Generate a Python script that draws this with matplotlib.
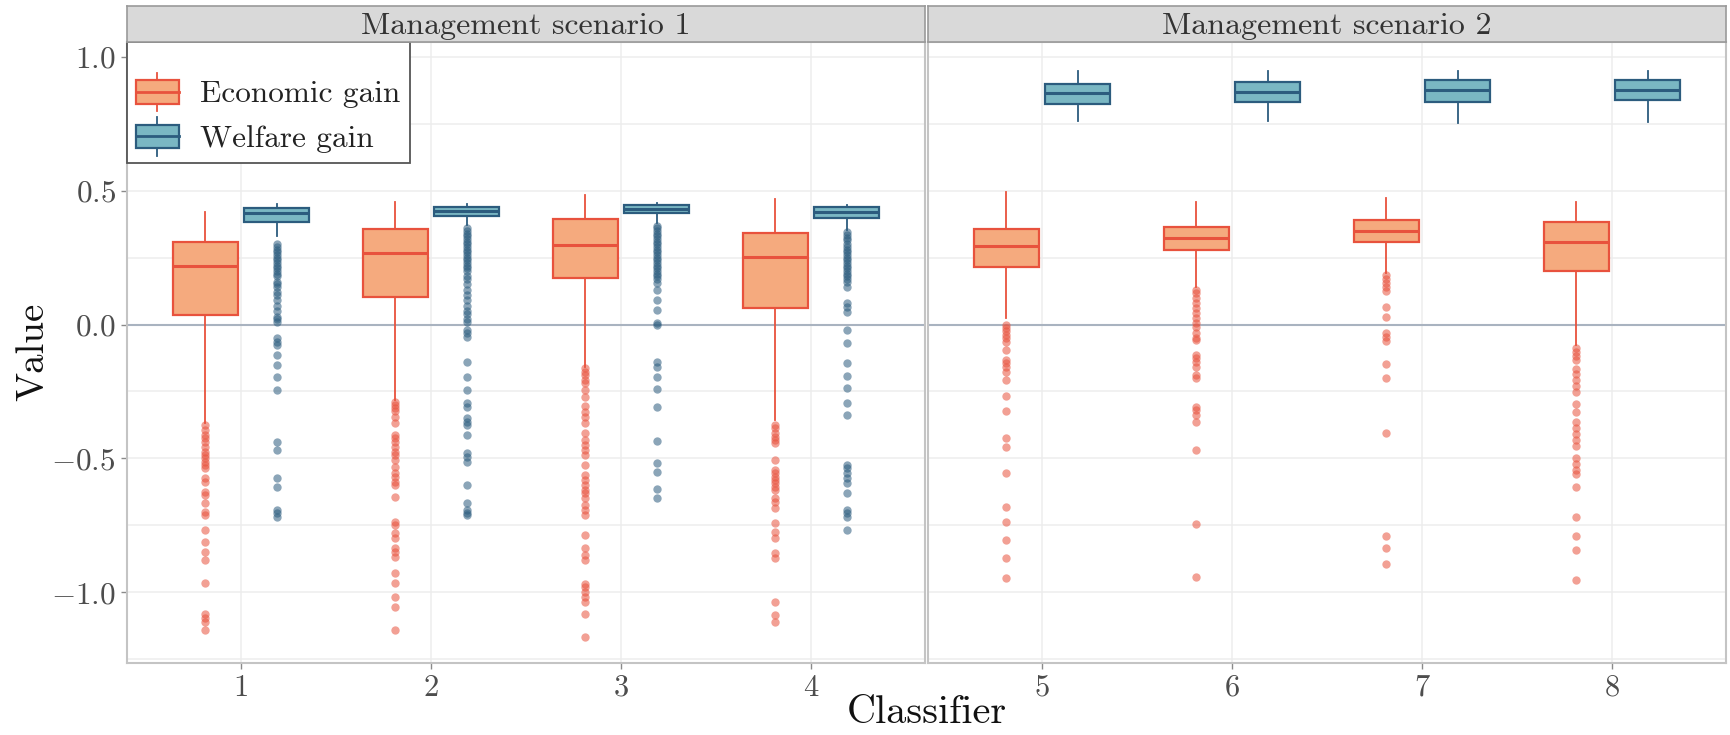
import matplotlib
matplotlib.use("Agg")
import matplotlib.pyplot as plt
from matplotlib.legend_handler import HandlerBase
from matplotlib.patches import Rectangle, Patch
from matplotlib.lines import Line2D

plt.rcParams["font.family"] = "cmr10"
plt.rcParams["mathtext.fontset"] = "cm"

# ---- data ----
classifiers = [1, 2, 3, 4, 5, 6, 7, 8]
scenarios = ["Management scenario 1", "Management scenario 2"]
series_names = ["Economic gain", "Welfare gain"]

econ_lo = [-0.368, -0.282, -0.157, -0.357, 0.023, 0.14, 0.192, -0.078]
econ_q1 = [0.036, 0.104, 0.173, 0.061, 0.214, 0.277, 0.308, 0.200]
econ_med = [0.219, 0.269, 0.298, 0.252, 0.295, 0.323, 0.350, 0.308]
econ_q3 = [0.310, 0.357, 0.394, 0.341, 0.357, 0.366, 0.392, 0.384]
econ_hi = [0.422, 0.458, 0.485, 0.468, 0.494, 0.457, 0.473, 0.458]

welf_lo = [0.33, 0.372, 0.38, 0.354, 0.759, 0.759, 0.755, 0.758]
welf_q1 = [0.382, 0.407, 0.416, 0.397, 0.823, 0.830, 0.830, 0.838]
welf_med = [0.418, 0.425, 0.431, 0.420, 0.867, 0.868, 0.875, 0.875]
welf_q3 = [0.437, 0.441, 0.447, 0.441, 0.899, 0.905, 0.913, 0.913]
welf_hi = [0.450, 0.450, 0.453, 0.447, 0.948, 0.948, 0.946, 0.946]

econ_out_1 = [-0.375, -0.394, -0.413, -0.425, -0.438, -0.456, -0.475, -0.487, -0.50, -0.512,
              -0.525, -0.537, -0.575, -0.587, -0.625, -0.637, -0.668, -0.70, -0.712, -0.768,
              -0.812, -0.85, -0.881, -0.965, -1.08, -1.098, -1.11, -1.142]
econ_out_2 = [-0.288, -0.30, -0.313, -0.325, -0.344, -0.369, -0.413, -0.425, -0.438, -0.456,
              -0.475, -0.487, -0.506, -0.531, -0.556, -0.569, -0.587, -0.60, -0.643, -0.737,
              -0.749, -0.78, -0.799, -0.836, -0.849, -0.868, -0.93, -0.967, -1.017, -1.055, -1.142]
econ_out_3 = [-0.163, -0.176, -0.188, -0.207, -0.22, -0.245, -0.27, -0.306, -0.326, -0.344,
              -0.369, -0.406, -0.431, -0.45, -0.469, -0.488, -0.525, -0.562, -0.581, -0.60,
              -0.618, -0.631, -0.649, -0.674, -0.693, -0.712, -0.787, -0.837, -0.862, -0.88,
              -0.968, -0.98, -0.999, -1.018, -1.037, -1.081, -1.168]
econ_out_4 = [-0.375, -0.387, -0.406, -0.419, -0.431, -0.444, -0.506, -0.543, -0.556, -0.568,
              -0.581, -0.593, -0.606, -0.618, -0.649, -0.662, -0.687, -0.743, -0.774, -0.799,
              -0.855, -0.874, -1.037, -1.087, -1.112]
econ_out_5 = [-0.002, -0.014, -0.026, -0.039, -0.051, -0.064, -0.095, -0.132, -0.145, -0.157,
              -0.176, -0.207, -0.267, -0.322, -0.425, -0.456, -0.556, -0.681, -0.737, -0.805,
              -0.874, -0.948]
econ_out_6 = [0.128, 0.117, 0.098, 0.08, 0.061, 0.042, 0.023, 0.005, -0.008, -0.033, -0.051,
              -0.058, -0.114, -0.126, -0.139, -0.157, -0.188, -0.20, -0.307, -0.319, -0.338,
              -0.363, -0.469, -0.745, -0.942]
econ_out_7 = [0.185, 0.17, 0.155, 0.14, 0.125, 0.065, 0.027, -0.033, -0.048, -0.063, -0.146,
              -0.201, -0.405, -0.791, -0.836, -0.896]
econ_out_8 = [-0.086, -0.101, -0.116, -0.131, -0.168, -0.183, -0.206, -0.228, -0.251, -0.296,
              -0.326, -0.363, -0.386, -0.408, -0.431, -0.453, -0.498, -0.521, -0.543, -0.559,
              -0.607, -0.719, -0.791, -0.841, -0.953]

welf_out_1 = [0.30, 0.29, 0.28, 0.27, 0.26, 0.25, 0.24, 0.23, 0.22, 0.21, 0.20, 0.19, 0.18,
              0.16, 0.15, 0.14, 0.12, 0.11, 0.09, 0.07, 0.05, 0.03, 0.02, 0.01, -0.051, -0.064,
              -0.076, -0.114, -0.151, -0.195, -0.245, -0.438, -0.469, -0.575, -0.606, -0.693,
              -0.705, -0.718]
welf_out_2 = [0.36, 0.35, 0.34, 0.33, 0.32, 0.31, 0.30, 0.29, 0.28, 0.27, 0.26, 0.25, 0.24,
              0.23, 0.22, 0.21, 0.20, 0.18, 0.17, 0.15, 0.13, 0.11, 0.09, 0.07, 0.05, 0.04,
              0.02, 0.01, -0.02, -0.033, -0.045, -0.139, -0.195, -0.245, -0.294, -0.307,
              -0.35, -0.363, -0.375, -0.413, -0.481, -0.494, -0.512, -0.60, -0.668, -0.693,
              -0.705, -0.712]
welf_out_3 = [0.37, 0.36, 0.35, 0.34, 0.33, 0.32, 0.31, 0.30, 0.29, 0.28, 0.27, 0.26, 0.25,
              0.24, 0.23, 0.22, 0.21, 0.20, 0.19, 0.18, 0.17, 0.154, 0.129, 0.092, 0.055,
              0.005, -0.001, -0.139, -0.157, -0.195, -0.242, -0.309, -0.434, -0.518, -0.55,
              -0.616, -0.649]
welf_out_4 = [0.347, 0.335, 0.325, 0.315, 0.30, 0.29, 0.28, 0.27, 0.26, 0.25, 0.24, 0.23,
              0.22, 0.21, 0.20, 0.19, 0.18, 0.17, 0.16, 0.142, 0.08, 0.067, 0.048, -0.02,
              -0.068, -0.142, -0.192, -0.236, -0.292, -0.338, -0.525, -0.537, -0.556, -0.575,
              -0.593, -0.631, -0.693, -0.705, -0.718, -0.768]

econ_out = [econ_out_1, econ_out_2, econ_out_3, econ_out_4,
            econ_out_5, econ_out_6, econ_out_7, econ_out_8]
welf_out = [welf_out_1, welf_out_2, welf_out_3, welf_out_4, [], [], [], []]

yticks = [-1.0, -0.5, 0.0, 0.5, 1.0]
ytick_labels = [r"$-1.0$", r"$-0.5$", r"$0.0$", r"$0.5$", r"$1.0$"]

# ---- style ----
econ_face, econ_edge = "#F5AA7E", "#E8523D"
welf_face, welf_edge = "#7AB7C3", "#2C5C7E"
grid_c = "#EDEDED"
spine_c = "#C4C4C4"


def stats(lo, q1, med, q3, hi, out):
    return [dict(whislo=lo[i], q1=q1[i], med=med[i], q3=q3[i], whishi=hi[i], fliers=out[i])
            for i in range(len(lo))]


econ_stats = stats(econ_lo, econ_q1, econ_med, econ_q3, econ_hi, econ_out)
welf_stats = stats(welf_lo, welf_q1, welf_med, welf_q3, welf_hi, welf_out)


def draw_boxes(ax, st, pos, face, edge):
    ax.bxp(st, positions=pos, widths=0.34, patch_artist=True, showcaps=False,
           boxprops=dict(facecolor=face, edgecolor=edge, linewidth=1.6),
           medianprops=dict(color=edge, linewidth=2.2),
           whiskerprops=dict(color=edge, linewidth=1.3),
           flierprops=dict(marker="o", markerfacecolor=edge, markeredgecolor="none",
                           markersize=6, alpha=0.55),
           zorder=3)


class BoxHandler(HandlerBase):
    def create_artists(self, legend, orig_handle, xdescent, ydescent, width, height,
                       fontsize, trans):
        face = orig_handle.get_facecolor()
        edge = orig_handle.get_edgecolor()
        cx = width / 2 - xdescent
        y0 = -ydescent
        bw = width
        bh = height * 0.66
        by = y0 + (height - bh) / 2
        rect = Rectangle((cx - bw / 2, by), bw, bh, facecolor=face, edgecolor=edge,
                         linewidth=1.6, transform=trans)
        wl = Line2D([cx, cx], [y0 - height * 0.05, y0 + height * 1.05], color=edge,
                    linewidth=1.3, transform=trans)
        med = Line2D([cx - bw / 2, cx + bw / 2], [y0 + height / 2] * 2, color=edge,
                     linewidth=2.0, transform=trans)
        return [wl, rect, med]


fig = plt.figure(figsize=(17.31, 7.35), dpi=100)
W, H = 1731, 735
panels = [(127, 925), (928, 1726)]
top, bottom = 42, 663

axes = []
for k, (x0, x1) in enumerate(panels):
    ax = fig.add_axes([x0 / W, 1 - bottom / H, (x1 - x0) / W, (bottom - top) / H])
    axes.append(ax)
    idx = list(range(4 * k, 4 * k + 4))
    cats = [classifiers[i] for i in idx]
    draw_boxes(ax, [econ_stats[i] for i in idx], [c - 0.1875 for c in cats], econ_face, econ_edge)
    draw_boxes(ax, [welf_stats[i] for i in idx], [c + 0.1875 for c in cats], welf_face, welf_edge)
    ax.axhline(0, color="#A9B3C0", linewidth=1.5, zorder=2)

    ax.set_xlim(cats[0] - 0.6, cats[-1] + 0.6)
    ax.set_ylim(-1.265, 1.056)
    ax.set_xticks(cats)
    ax.set_xticklabels([str(c) for c in cats], fontsize=22)
    ax.set_yticks(yticks)
    ax.set_yticks([-1.25, -0.75, -0.25, 0.25, 0.75], minor=True)
    ax.grid(True, which="both", color=grid_c, linewidth=1.1)
    ax.set_axisbelow(True)
    ax.tick_params(axis="both", which="major", length=4, width=1, color="#8A8A8A",
                   colors="#4D4D4D", pad=4)
    ax.tick_params(axis="both", which="minor", length=0)
    if k == 0:
        ax.set_yticklabels(ytick_labels, fontsize=22.5)
    else:
        ax.tick_params(axis="y", which="both", left=False, labelleft=False)
    for s in ax.spines.values():
        s.set_color(spine_c)
        s.set_linewidth(1.5)

    # facet strip
    sx = fig.add_axes([x0 / W, 1 - top / H, (x1 - x0) / W, 36 / H])
    sx.set_facecolor("#D9D9D9")
    sx.set_xticks([])
    sx.set_yticks([])
    for s in sx.spines.values():
        s.set_color("#9A9A9A")
        s.set_linewidth(1.2)
    sx.text(0.5, 0.45, scenarios[k], transform=sx.transAxes, ha="center", va="center",
            fontsize=23, color="#333333")

handles = [Patch(facecolor=econ_face, edgecolor=econ_edge),
           Patch(facecolor=welf_face, edgecolor=welf_edge)]
leg = axes[0].legend(handles, series_names, loc="upper left", borderaxespad=0,
                     fontsize=22.5, handler_map={Patch: BoxHandler()},
                     title=" ", title_fontsize=11,
                     handlelength=1.35, handleheight=1.35, handletextpad=0.7,
                     labelspacing=0.3, borderpad=0.3, fancybox=False, framealpha=1)
leg.get_frame().set_edgecolor("#555555")
leg.get_frame().set_linewidth(1.3)
for t in leg.get_texts():
    t.set_color("#222222")
leg.set_zorder(10)

fig.text((127 + 1726) / 2 / W, 1 - 713 / H, "Classifier", ha="center", va="center",
         fontsize=29, color="#111111")
fig.text(33 / W, 1 - 352 / H, "Value", ha="center", va="center", rotation=90,
         fontsize=28, color="#111111")

fig.savefig("out.png", dpi=100)
